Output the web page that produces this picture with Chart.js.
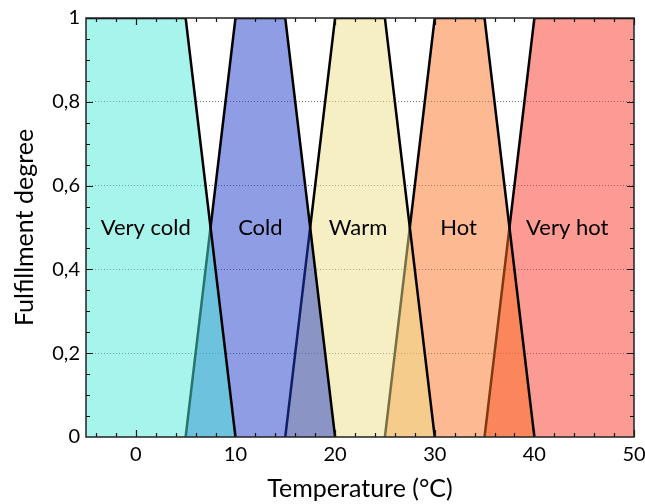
<!DOCTYPE html>
<html>
<head>
<meta charset="utf-8">
<script src="https://cdn.jsdelivr.net/npm/chart.js@4.4.1/dist/chart.umd.min.js"></script>
<style>
  html, body { margin: 0; padding: 0; background: #fff; }
  #wrap { width: 645px; height: 504px; }
</style>
</head>
<body>
<div id="wrap"><canvas id="chart" width="645" height="504"></canvas></div>
<script>
// Categorías difusas
const categories = ['Very cold', 'Cold', 'Warm', 'Hot', 'Very hot'];
// Puntos de quiebre (temperatura) y grado de pertenencia
const veryColdX = [-5, 5, 10];
const veryColdY = [1, 1, 0];
const coldX = [5, 10, 15, 20];
const coldY = [0, 1, 1, 0];
const warmX = [15, 20, 25, 30];
const warmY = [0, 1, 1, 0];
const hotX = [25, 30, 35, 40];
const hotY = [0, 1, 1, 0];
const veryHotX = [35, 40, 50];
const veryHotY = [0, 1, 1];
// Posición de las etiquetas (en unidades de datos)
const labelX = [1.0, 12.5, 22.3, 32.4, 43.3];
const labelY = 0.5;
// Etiquetas de los ejes
const xTickLabels = ['0', '10', '20', '30', '40', '50'];
const yTickLabels = ['0', '0,2', '0,4', '0,6', '0,8', '1'];

const fillColors = [
  'rgba(77,233,217,0.5)',
  'rgba(29,59,201,0.5)',
  'rgba(239,223,137,0.5)',
  'rgba(251,115,35,0.5)',
  'rgba(249,53,41,0.5)'
];

const FONT = 'Lato, "DejaVu Sans", sans-serif';

function pts(xs, ys) {
  return xs.map((x, i) => ({ x: x, y: ys[i] }));
}

const series = [
  pts(veryColdX, veryColdY),
  pts(coldX, coldY),
  pts(warmX, warmY),
  pts(hotX, hotY),
  pts(veryHotX, veryHotY)
];

// Ticks interiores, marco y etiquetas
const framePlugin = {
  id: 'frame',
  afterDatasetsDraw(chart) {
    const ctx = chart.ctx;
    const a = chart.chartArea;
    const xs = chart.scales.x;
    const ys = chart.scales.y;
    ctx.save();
    // etiquetas de categorías
    ctx.fillStyle = '#000';
    ctx.font = '22px ' + FONT;
    ctx.textAlign = 'center';
    ctx.textBaseline = 'middle';
    categories.forEach((c, i) => {
      ctx.fillText(c, xs.getPixelForValue(labelX[i]), ys.getPixelForValue(labelY));
    });
    // ticks
    ctx.strokeStyle = '#111';
    ctx.lineWidth = 1.2;
    ctx.beginPath();
    for (let v = -4; v <= 50; v += 2) {
      const px = Math.round(xs.getPixelForValue(v)) + 0.5;
      const len = v % 10 === 0 ? 7 : 4;
      ctx.moveTo(px, a.bottom); ctx.lineTo(px, a.bottom - len);
      ctx.moveTo(px, a.top); ctx.lineTo(px, a.top + len);
    }
    for (let k = 1; k < 20; k++) {
      const v = k * 0.05;
      const py = Math.round(ys.getPixelForValue(v)) + 0.5;
      const len = k % 4 === 0 ? 7 : 4;
      ctx.moveTo(a.left, py); ctx.lineTo(a.left + len, py);
      ctx.moveTo(a.right, py); ctx.lineTo(a.right - len, py);
    }
    ctx.stroke();
    // marco
    ctx.strokeStyle = '#222';
    ctx.lineWidth = 1.5;
    ctx.strokeRect(a.left, a.top, a.right - a.left, a.bottom - a.top);
    ctx.restore();
  }
};

new Chart(document.getElementById('chart').getContext('2d'), {
  type: 'line',
  data: {
    datasets: series.map((d, i) => ({
      label: categories[i],
      data: d,
      backgroundColor: fillColors[i],
      borderColor: '#000',
      borderWidth: 2.5,
      pointRadius: 0,
      fill: 'origin',
      tension: 0
    }))
  },
  options: {
    responsive: false,
    animation: false,
    layout: { padding: { top: 15, right: 11, left: 0, bottom: 0 } },
    plugins: { legend: { display: false }, tooltip: { enabled: false } },
    scales: {
      x: {
        type: 'linear',
        min: -5,
        max: 50,
        border: { display: false },
        grid: { display: false, drawTicks: false },
        afterBuildTicks(scale) {
          scale.ticks = xTickLabels.map(t => ({ value: Number(t) }));
        },
        afterFit(scale) {
          scale.height = 67;
          scale.paddingLeft = 0;
          scale.paddingRight = 0;
        },
        ticks: {
          padding: 6,
          color: '#000',
          font: { family: FONT, size: 20 },
          maxRotation: 0,
          callback: (v) => String(v)
        },
        title: {
          display: true,
          text: 'Temperature (°C)',
          color: '#000',
          font: { family: FONT, size: 25 },
          padding: { top: 0, bottom: 0 }
        }
      },
      y: {
        min: 0,
        max: 1,
        border: { display: false, dash: [1, 2] },
        grid: {
          drawTicks: false,
          color: (c) => (c.tick && (c.tick.value === 0 || c.tick.value === 1)) ? 'rgba(0,0,0,0)' : '#777',
          lineWidth: 1
        },
        afterBuildTicks(scale) {
          scale.ticks = yTickLabels.map(t => ({ value: Number(t.replace(',', '.')) }));
        },
        afterFit(scale) { scale.width = 86; },
        ticks: {
          padding: 6,
          color: '#000',
          font: { family: FONT, size: 20 },
          callback: (v) => yTickLabels[Math.round(v * 5)]
        },
        title: {
          display: true,
          text: 'Fulfillment degree',
          color: '#000',
          font: { family: FONT, size: 25 },
          padding: { top: 10, bottom: 0 }
        }
      }
    }
  },
  plugins: [framePlugin]
});
</script>
</body>
</html>
